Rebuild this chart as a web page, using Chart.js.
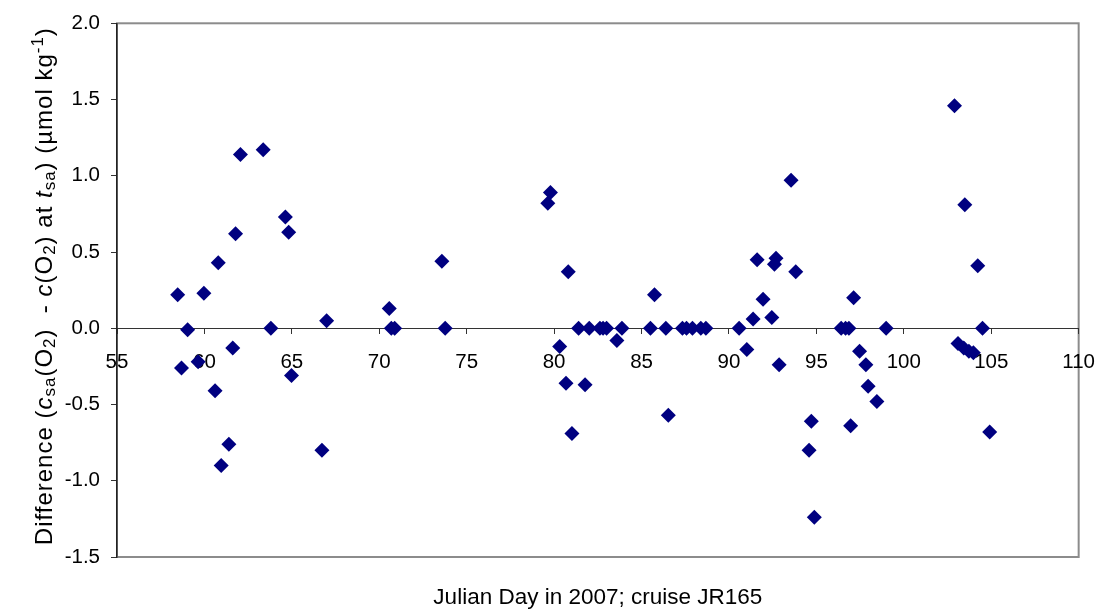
<!DOCTYPE html>
<html>
<head>
<meta charset="utf-8">
<script src="https://cdn.jsdelivr.net/npm/chart.js@4/dist/chart.umd.min.js"></script>
<style>
  body { margin: 0; background: #fff; }
  #wrap { width: 1112px; height: 610px; }
</style>
</head>
<body>
<div id="wrap"><canvas id="chart"></canvas></div>
<script>
// julian day of each sample
const days = [
  58.47, 58.69, 59.04, 59.64, 59.97, 60.61, 60.79, 60.96, 61.40, 61.62,
  61.78, 62.06, 63.36, 63.80, 64.63, 64.82, 64.98, 66.72, 66.99, 70.57,
  70.69, 70.88, 73.58, 73.77, 79.64, 79.79, 80.32, 80.68, 80.81, 81.02,
  81.40, 81.77, 82.01, 82.62, 82.80, 83.00, 83.59, 83.88, 85.51, 85.74,
  86.39, 86.53, 87.34, 87.57, 87.91, 88.39, 88.68, 90.58, 91.02, 91.38,
  91.61, 91.95, 92.45, 92.60, 92.69, 92.87, 93.55, 93.82, 94.58, 94.71,
  94.88, 96.42, 96.67, 96.86, 96.96, 97.13, 97.47, 97.83, 97.96, 98.46,
  98.99, 102.90, 103.10, 103.43, 103.49, 103.72, 103.98, 104.23, 104.50, 104.91
];
// difference c_sa(O2) - c(O2) at t_sa
const diffs = [
  0.22, -0.26, -0.01, -0.22, 0.23, -0.41, 0.43, -0.90, -0.76, -0.13,
  0.62, 1.14, 1.17, 0.00, 0.73, 0.63, -0.31, -0.80, 0.05, 0.13,
  0.00, 0.00, 0.44, 0.00, 0.82, 0.89, -0.12, -0.36, 0.37, -0.69,
  0.00, -0.37, 0.00, 0.00, 0.00, 0.00, -0.08, 0.00, 0.00, 0.22,
  0.00, -0.57, 0.00, 0.00, 0.00, 0.00, 0.00, 0.00, -0.14, 0.06,
  0.45, 0.19, 0.07, 0.42, 0.46, -0.24, 0.97, 0.37, -0.80, -0.61,
  -1.24, 0.00, 0.00, 0.00, -0.64, 0.20, -0.15, -0.24, -0.38, -0.48,
  0.00, 1.46, -0.10, -0.13, 0.81, -0.15, -0.16, 0.41, 0.00, -0.68
];

const xTicks = [55, 60, 65, 70, 75, 80, 85, 90, 95, 100, 105, 110];
const yTicks = [-1.5, -1.0, -0.5, 0.0, 0.5, 1.0, 1.5, 2.0];

const xTitle = 'Julian Day in 2007; cruise JR165';
// pieces of the y title: [text, style]
const yTitleParts = [
  ['Difference (', 'n'], ['c', 'i'], ['sa', 'sub'], ['(O', 'n'], ['2', 'sub'],
  [')  - ', 'n'], ['c', 'i'], ['(O', 'n'], ['2', 'sub'], [') at ', 'n'],
  ['t', 'i'], ['sa', 'sub'], [') (\u00b5mol kg', 'n'], ['-1', 'sup'], [')', 'n']
];

const FONT = '"Liberation Sans", Arial, sans-serif';

const plotFrame = {
  id: 'plotFrame',
  beforeDraw(chart) {
    const {ctx, chartArea: a} = chart;
    ctx.save();
    ctx.strokeStyle = '#8c8c8c';
    ctx.lineWidth = 2;
    ctx.strokeRect(a.left, a.top, a.right - a.left, a.bottom - a.top);
    ctx.restore();
  }
};

const axisTitles = {
  id: 'axisTitles',
  afterDraw(chart) {
    const {ctx, chartArea: a} = chart;
    ctx.save();
    ctx.fillStyle = '#000';
    ctx.textBaseline = 'alphabetic';
    ctx.font = '22.5px ' + FONT;
    ctx.textAlign = 'center';
    ctx.fillText(xTitle, (a.left + a.right) / 2, 604);

    // rotated rich-text title
    const size = 24;
    ctx.letterSpacing = '1px';
    const fontFor = s => {
      if (s === 'i') return 'italic ' + size + 'px ' + FONT;
      if (s === 'sub' || s === 'sup') return Math.round(size * 0.72) + 'px ' + FONT;
      return size + 'px ' + FONT;
    };
    let total = 0;
    yTitleParts.forEach(p => { ctx.font = fontFor(p[1]); total += ctx.measureText(p[0]).width; });
    ctx.translate(52, (a.top + a.bottom) / 2 - 4);
    ctx.rotate(-Math.PI / 2);
    ctx.textAlign = 'left';
    let x = -total / 2;
    yTitleParts.forEach(p => {
      ctx.font = fontFor(p[1]);
      let dy = 0;
      if (p[1] === 'sub') dy = 3;
      if (p[1] === 'sup') dy = -9;
      ctx.fillText(p[0], x, dy);
      x += ctx.measureText(p[0]).width;
    });
    ctx.restore();
  }
};

const points = days.map((d, i) => ({x: d, y: diffs[i]}));

const config = {
  type: 'scatter',
  data: {
    datasets: [{
      data: points,
      pointStyle: 'rectRot',
      pointRadius: 7.5,
      pointHoverRadius: 7.5,
      backgroundColor: '#000080',
      borderColor: '#000080',
      borderWidth: 0
    }]
  },
  options: {
    responsive: true,
    maintainAspectRatio: false,
    animation: false,
    layout: { padding: { left: 0, top: 20, right: 32, bottom: 53 } },
    plugins: {
      legend: { display: false },
      tooltip: { enabled: false }
    },
    scales: {
      x: {
        type: 'linear',
        position: { y: 0 },
        min: 55,
        max: 110,
        afterBuildTicks: s => { s.ticks = xTicks.map(v => ({value: v})); },
        ticks: {
          autoSkip: false,
          maxRotation: 0,
          padding: 17,
          color: '#000',
          font: { family: FONT, size: 20.5 }
        },
        grid: { drawOnChartArea: false, drawTicks: true, tickLength: 5, tickColor: '#333' },
        border: { color: '#333', width: 1 }
      },
      y: {
        min: -1.5,
        max: 2,
        afterBuildTicks: s => { s.ticks = yTicks.map(v => ({value: v})); },
        afterFit: s => { s.width = 117; },
        ticks: {
          padding: 11,
          color: '#000',
          font: { family: FONT, size: 20.5 },
          callback: v => v.toFixed(1)
        },
        grid: { drawOnChartArea: false, drawTicks: true, tickLength: 6, tickColor: '#333' },
        border: { color: '#222', width: 1.5 }
      }
    }
  },
  plugins: [plotFrame, axisTitles]
};

new Chart(document.getElementById('chart').getContext('2d'), config);
</script>
</body>
</html>
